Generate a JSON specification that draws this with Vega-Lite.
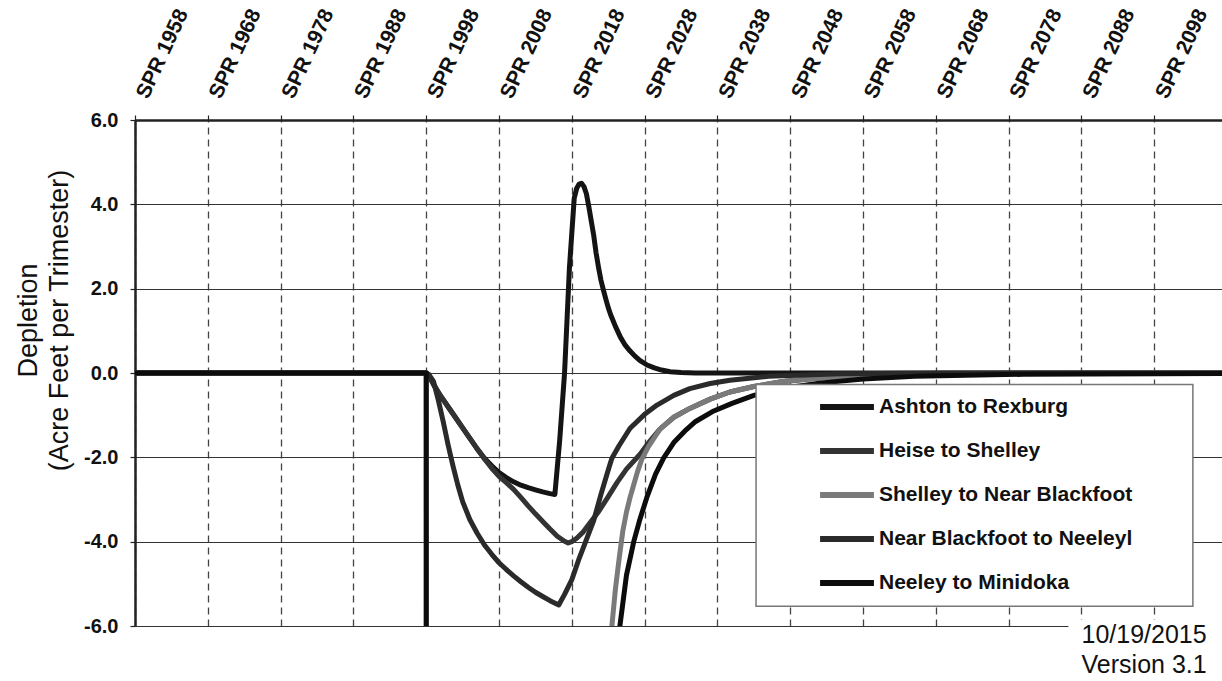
{
  "$schema": "https://vega.github.io/schema/vega-lite/v6.json",
  "width": 1087,
  "height": 506,
  "autosize": {"type": "none"},
  "padding": {"left": 135, "top": 120, "right": 0, "bottom": 55},
  "background": "white",
  "config": {
    "font": "Liberation Sans",
    "view": {"stroke": null},
    "axis": {"labelColor": "#111", "titleColor": "#111"}
  },
  "layer": [
    {
      "data": {"values": [
        {"series":"Ashton to Rexburg","year":1958,"value":0},
        {"series":"Ashton to Rexburg","year":1998,"value":0},
        {"series":"Ashton to Rexburg","year":1998.33,"value":-0.05},
        {"series":"Ashton to Rexburg","year":1999,"value":-0.27},
        {"series":"Ashton to Rexburg","year":2000,"value":-0.55},
        {"series":"Ashton to Rexburg","year":2001,"value":-0.8},
        {"series":"Ashton to Rexburg","year":2002,"value":-1.05},
        {"series":"Ashton to Rexburg","year":2003,"value":-1.3},
        {"series":"Ashton to Rexburg","year":2004,"value":-1.55},
        {"series":"Ashton to Rexburg","year":2005,"value":-1.8},
        {"series":"Ashton to Rexburg","year":2006,"value":-2.02},
        {"series":"Ashton to Rexburg","year":2007,"value":-2.2},
        {"series":"Ashton to Rexburg","year":2008,"value":-2.36},
        {"series":"Ashton to Rexburg","year":2009,"value":-2.48},
        {"series":"Ashton to Rexburg","year":2010,"value":-2.58},
        {"series":"Ashton to Rexburg","year":2011,"value":-2.66},
        {"series":"Ashton to Rexburg","year":2012,"value":-2.72},
        {"series":"Ashton to Rexburg","year":2013,"value":-2.77},
        {"series":"Ashton to Rexburg","year":2014,"value":-2.82},
        {"series":"Ashton to Rexburg","year":2015,"value":-2.86},
        {"series":"Ashton to Rexburg","year":2015.67,"value":-2.88},
        {"series":"Ashton to Rexburg","year":2016.33,"value":-1.6},
        {"series":"Ashton to Rexburg","year":2017,"value":0.0},
        {"series":"Ashton to Rexburg","year":2017.67,"value":2.5},
        {"series":"Ashton to Rexburg","year":2018.33,"value":4.15},
        {"series":"Ashton to Rexburg","year":2018.67,"value":4.38},
        {"series":"Ashton to Rexburg","year":2019,"value":4.48},
        {"series":"Ashton to Rexburg","year":2019.33,"value":4.5},
        {"series":"Ashton to Rexburg","year":2019.67,"value":4.42},
        {"series":"Ashton to Rexburg","year":2020,"value":4.25},
        {"series":"Ashton to Rexburg","year":2020.33,"value":3.95},
        {"series":"Ashton to Rexburg","year":2020.67,"value":3.6},
        {"series":"Ashton to Rexburg","year":2021,"value":3.27},
        {"series":"Ashton to Rexburg","year":2021.33,"value":2.85},
        {"series":"Ashton to Rexburg","year":2021.67,"value":2.5},
        {"series":"Ashton to Rexburg","year":2022,"value":2.2},
        {"series":"Ashton to Rexburg","year":2022.33,"value":1.97},
        {"series":"Ashton to Rexburg","year":2022.67,"value":1.75},
        {"series":"Ashton to Rexburg","year":2023,"value":1.55},
        {"series":"Ashton to Rexburg","year":2023.33,"value":1.38},
        {"series":"Ashton to Rexburg","year":2023.67,"value":1.24},
        {"series":"Ashton to Rexburg","year":2024,"value":1.1},
        {"series":"Ashton to Rexburg","year":2024.67,"value":0.85},
        {"series":"Ashton to Rexburg","year":2025.33,"value":0.66},
        {"series":"Ashton to Rexburg","year":2026,"value":0.52},
        {"series":"Ashton to Rexburg","year":2026.67,"value":0.4},
        {"series":"Ashton to Rexburg","year":2027.33,"value":0.3},
        {"series":"Ashton to Rexburg","year":2028.33,"value":0.19},
        {"series":"Ashton to Rexburg","year":2029.33,"value":0.12},
        {"series":"Ashton to Rexburg","year":2030.33,"value":0.07},
        {"series":"Ashton to Rexburg","year":2031.5,"value":0.03},
        {"series":"Ashton to Rexburg","year":2033,"value":0.01},
        {"series":"Ashton to Rexburg","year":2035,"value":0},
        {"series":"Ashton to Rexburg","year":2107.3,"value":0},

        {"series":"Heise to Shelley","year":1958,"value":0},
        {"series":"Heise to Shelley","year":1998,"value":0},
        {"series":"Heise to Shelley","year":1998.33,"value":-0.05},
        {"series":"Heise to Shelley","year":1999,"value":-0.27},
        {"series":"Heise to Shelley","year":2000,"value":-0.55},
        {"series":"Heise to Shelley","year":2001,"value":-0.8},
        {"series":"Heise to Shelley","year":2002,"value":-1.05},
        {"series":"Heise to Shelley","year":2003,"value":-1.3},
        {"series":"Heise to Shelley","year":2004,"value":-1.55},
        {"series":"Heise to Shelley","year":2005,"value":-1.8},
        {"series":"Heise to Shelley","year":2006,"value":-2.04},
        {"series":"Heise to Shelley","year":2007,"value":-2.26},
        {"series":"Heise to Shelley","year":2008,"value":-2.45},
        {"series":"Heise to Shelley","year":2009,"value":-2.6},
        {"series":"Heise to Shelley","year":2010,"value":-2.76},
        {"series":"Heise to Shelley","year":2011,"value":-2.95},
        {"series":"Heise to Shelley","year":2012,"value":-3.15},
        {"series":"Heise to Shelley","year":2013,"value":-3.34},
        {"series":"Heise to Shelley","year":2014,"value":-3.52},
        {"series":"Heise to Shelley","year":2015,"value":-3.7},
        {"series":"Heise to Shelley","year":2016,"value":-3.87},
        {"series":"Heise to Shelley","year":2017,"value":-3.99},
        {"series":"Heise to Shelley","year":2017.5,"value":-4.03},
        {"series":"Heise to Shelley","year":2018,"value":-4.0},
        {"series":"Heise to Shelley","year":2018.67,"value":-3.92},
        {"series":"Heise to Shelley","year":2019.5,"value":-3.78},
        {"series":"Heise to Shelley","year":2020.5,"value":-3.55},
        {"series":"Heise to Shelley","year":2021.67,"value":-3.29},
        {"series":"Heise to Shelley","year":2023,"value":-2.93},
        {"series":"Heise to Shelley","year":2024.2,"value":-2.6},
        {"series":"Heise to Shelley","year":2025.5,"value":-2.28},
        {"series":"Heise to Shelley","year":2027.4,"value":-1.92},
        {"series":"Heise to Shelley","year":2028.7,"value":-1.62},
        {"series":"Heise to Shelley","year":2030.1,"value":-1.33},
        {"series":"Heise to Shelley","year":2032,"value":-1.05},
        {"series":"Heise to Shelley","year":2034.2,"value":-0.84},
        {"series":"Heise to Shelley","year":2037,"value":-0.62},
        {"series":"Heise to Shelley","year":2039.7,"value":-0.45},
        {"series":"Heise to Shelley","year":2043,"value":-0.32},
        {"series":"Heise to Shelley","year":2047,"value":-0.2},
        {"series":"Heise to Shelley","year":2052,"value":-0.12},
        {"series":"Heise to Shelley","year":2060,"value":-0.05},
        {"series":"Heise to Shelley","year":2075,"value":-0.01},
        {"series":"Heise to Shelley","year":2107.3,"value":0},

        {"series":"Shelley to Near Blackfoot","year":1958,"value":0},
        {"series":"Shelley to Near Blackfoot","year":1998,"value":0},
        {"series":"Shelley to Near Blackfoot","year":1998.1,"value":-100},
        {"series":"Shelley to Near Blackfoot","year":2022.5,"value":-9},
        {"series":"Shelley to Near Blackfoot","year":2023,"value":-7.3},
        {"series":"Shelley to Near Blackfoot","year":2023.5,"value":-6.0},
        {"series":"Shelley to Near Blackfoot","year":2024,"value":-5.1},
        {"series":"Shelley to Near Blackfoot","year":2024.5,"value":-4.4},
        {"series":"Shelley to Near Blackfoot","year":2025,"value":-3.75},
        {"series":"Shelley to Near Blackfoot","year":2025.5,"value":-3.3},
        {"series":"Shelley to Near Blackfoot","year":2026,"value":-2.95},
        {"series":"Shelley to Near Blackfoot","year":2026.5,"value":-2.65},
        {"series":"Shelley to Near Blackfoot","year":2027,"value":-2.35},
        {"series":"Shelley to Near Blackfoot","year":2027.6,"value":-2.05},
        {"series":"Shelley to Near Blackfoot","year":2028.5,"value":-1.75},
        {"series":"Shelley to Near Blackfoot","year":2030.1,"value":-1.33},
        {"series":"Shelley to Near Blackfoot","year":2032,"value":-1.05},
        {"series":"Shelley to Near Blackfoot","year":2034.2,"value":-0.84},
        {"series":"Shelley to Near Blackfoot","year":2037,"value":-0.62},
        {"series":"Shelley to Near Blackfoot","year":2039.7,"value":-0.45},
        {"series":"Shelley to Near Blackfoot","year":2043,"value":-0.32},
        {"series":"Shelley to Near Blackfoot","year":2047,"value":-0.2},
        {"series":"Shelley to Near Blackfoot","year":2052,"value":-0.12},
        {"series":"Shelley to Near Blackfoot","year":2060,"value":-0.05},
        {"series":"Shelley to Near Blackfoot","year":2075,"value":-0.01},
        {"series":"Shelley to Near Blackfoot","year":2107.3,"value":0},

        {"series":"Near Blackfoot to Neeleyl","year":1958,"value":0},
        {"series":"Near Blackfoot to Neeleyl","year":1998,"value":0},
        {"series":"Near Blackfoot to Neeleyl","year":1998.33,"value":-0.03},
        {"series":"Near Blackfoot to Neeleyl","year":1999,"value":-0.2},
        {"series":"Near Blackfoot to Neeleyl","year":1999.67,"value":-0.65},
        {"series":"Near Blackfoot to Neeleyl","year":2000.33,"value":-1.15},
        {"series":"Near Blackfoot to Neeleyl","year":2001,"value":-1.7},
        {"series":"Near Blackfoot to Neeleyl","year":2001.67,"value":-2.2},
        {"series":"Near Blackfoot to Neeleyl","year":2002.33,"value":-2.65},
        {"series":"Near Blackfoot to Neeleyl","year":2003,"value":-3.05},
        {"series":"Near Blackfoot to Neeleyl","year":2004,"value":-3.48},
        {"series":"Near Blackfoot to Neeleyl","year":2005,"value":-3.8},
        {"series":"Near Blackfoot to Neeleyl","year":2006,"value":-4.08},
        {"series":"Near Blackfoot to Neeleyl","year":2007,"value":-4.3},
        {"series":"Near Blackfoot to Neeleyl","year":2008,"value":-4.5},
        {"series":"Near Blackfoot to Neeleyl","year":2009,"value":-4.66},
        {"series":"Near Blackfoot to Neeleyl","year":2010,"value":-4.81},
        {"series":"Near Blackfoot to Neeleyl","year":2011,"value":-4.95},
        {"series":"Near Blackfoot to Neeleyl","year":2012,"value":-5.08},
        {"series":"Near Blackfoot to Neeleyl","year":2013,"value":-5.2},
        {"series":"Near Blackfoot to Neeleyl","year":2014,"value":-5.3},
        {"series":"Near Blackfoot to Neeleyl","year":2015,"value":-5.4},
        {"series":"Near Blackfoot to Neeleyl","year":2016.2,"value":-5.5},
        {"series":"Near Blackfoot to Neeleyl","year":2017,"value":-5.25},
        {"series":"Near Blackfoot to Neeleyl","year":2018,"value":-4.9},
        {"series":"Near Blackfoot to Neeleyl","year":2019,"value":-4.4},
        {"series":"Near Blackfoot to Neeleyl","year":2020,"value":-3.95},
        {"series":"Near Blackfoot to Neeleyl","year":2021,"value":-3.5},
        {"series":"Near Blackfoot to Neeleyl","year":2022,"value":-2.88},
        {"series":"Near Blackfoot to Neeleyl","year":2023,"value":-2.3},
        {"series":"Near Blackfoot to Neeleyl","year":2023.5,"value":-2.02},
        {"series":"Near Blackfoot to Neeleyl","year":2024.5,"value":-1.72},
        {"series":"Near Blackfoot to Neeleyl","year":2026,"value":-1.31},
        {"series":"Near Blackfoot to Neeleyl","year":2028,"value":-0.98},
        {"series":"Near Blackfoot to Neeleyl","year":2029.7,"value":-0.76},
        {"series":"Near Blackfoot to Neeleyl","year":2032,"value":-0.53},
        {"series":"Near Blackfoot to Neeleyl","year":2034.2,"value":-0.37},
        {"series":"Near Blackfoot to Neeleyl","year":2037,"value":-0.25},
        {"series":"Near Blackfoot to Neeleyl","year":2039.7,"value":-0.17},
        {"series":"Near Blackfoot to Neeleyl","year":2045,"value":-0.08},
        {"series":"Near Blackfoot to Neeleyl","year":2055,"value":-0.02},
        {"series":"Near Blackfoot to Neeleyl","year":2070,"value":0},
        {"series":"Near Blackfoot to Neeleyl","year":2107.3,"value":0},

        {"series":"Neeley to Minidoka","year":1958,"value":0},
        {"series":"Neeley to Minidoka","year":1998,"value":0},
        {"series":"Neeley to Minidoka","year":1998.1,"value":-100},
        {"series":"Neeley to Minidoka","year":2023.5,"value":-10},
        {"series":"Neeley to Minidoka","year":2024.1,"value":-7.2},
        {"series":"Neeley to Minidoka","year":2024.6,"value":-6.0},
        {"series":"Neeley to Minidoka","year":2025.5,"value":-4.8},
        {"series":"Neeley to Minidoka","year":2026.5,"value":-4.0},
        {"series":"Neeley to Minidoka","year":2027.3,"value":-3.5},
        {"series":"Neeley to Minidoka","year":2028.3,"value":-2.95},
        {"series":"Neeley to Minidoka","year":2029.5,"value":-2.4},
        {"series":"Neeley to Minidoka","year":2030.6,"value":-2.02},
        {"series":"Neeley to Minidoka","year":2032,"value":-1.65},
        {"series":"Neeley to Minidoka","year":2033.5,"value":-1.38},
        {"series":"Neeley to Minidoka","year":2035,"value":-1.15},
        {"series":"Neeley to Minidoka","year":2037.5,"value":-0.9},
        {"series":"Neeley to Minidoka","year":2040,"value":-0.72},
        {"series":"Neeley to Minidoka","year":2043,"value":-0.53},
        {"series":"Neeley to Minidoka","year":2047,"value":-0.36},
        {"series":"Neeley to Minidoka","year":2052,"value":-0.24},
        {"series":"Neeley to Minidoka","year":2058,"value":-0.14},
        {"series":"Neeley to Minidoka","year":2065,"value":-0.08},
        {"series":"Neeley to Minidoka","year":2080,"value":-0.03},
        {"series":"Neeley to Minidoka","year":2107.3,"value":-0.01}
      ]},
      "mark": {"type": "line", "strokeWidth": 5, "clip": true, "strokeCap": "round", "strokeJoin": "round"},
      "encoding": {
        "x": {
          "field": "year", "type": "quantitative",
          "scale": {"domain": [1958, 2107.3], "nice": false, "zero": false},
          "axis": {
            "orient": "top", "title": null,
            "values": [1958,1963,1968,1973,1978,1983,1988,1993,1998,2003,2008,2013,2018,2023,2028,2033,2038,2043,2048,2053,2058,2063,2068,2073,2078,2083,2088,2093,2098,2103],
            "labelExpr": "(datum.value - 1958) % 10 == 0 ? 'SPR ' + datum.value : ''",
            "labelAngle": -65, "labelAlign": "left", "labelBaseline": "middle",
            "labelFontSize": 21, "labelFontWeight": "bold",
            "labelPadding": 18, "labelOffset": 7,
            "labelOverlap": false, "labelFlush": false, "labelBound": false,
            "tickSize": 5, "tickColor": "#222", "tickWidth": 1.2,
            "domainColor": "#222", "domainWidth": 2.5,
            "grid": true, "gridDash": [7, 5], "gridColor": "#444", "gridWidth": 1.3
          }
        },
        "y": {
          "field": "value", "type": "quantitative",
          "scale": {"domain": [-6, 6], "nice": false, "zero": false},
          "axis": {
            "values": [-6, -4, -2, 0, 2, 4, 6],
            "labelExpr": "datum.value < 0 ? '-' + format(-datum.value, '.1f') : format(datum.value, '.1f')",
            "labelFontSize": 20, "labelFontWeight": "bold", "labelPadding": 12,
            "labelFlush": false, "labelOverlap": false,
            "tickSize": 5, "tickColor": "#222", "tickWidth": 1.2,
            "domainColor": "#222", "domainWidth": 2.5,
            "grid": true, "gridColor": "#333", "gridWidth": 1.2,
            "title": ["Depletion", "(Acre Feet per Trimester)"],
            "titleFontSize": 27, "titleFontWeight": "normal", "titleLineHeight": 31,
            "titlePadding": 10, "titleY": 200
          }
        },
        "color": {
          "field": "series", "type": "nominal",
          "scale": {
            "domain": ["Ashton to Rexburg", "Heise to Shelley", "Shelley to Near Blackfoot", "Near Blackfoot to Neeleyl", "Neeley to Minidoka"],
            "range": ["#141414", "#333333", "#7a7a7a", "#2a2a2a", "#0c0c0c"]
          },
          "legend": {
            "orient": "none", "legendX": 682, "legendY": 257, "title": null,
            "symbolType": "stroke", "symbolSize": 2900, "symbolStrokeWidth": 6,
            "labelFontSize": 21, "labelFontWeight": "bold", "labelColor": "#111",
            "labelOffset": 2, "rowPadding": 2, "labelLimit": 400, "padding": 0
          }
        }
      }
    },
    {
      "data": {"values": [{}]},
      "mark": {"type": "rect", "fill": "white", "stroke": "#777", "strokeWidth": 1.5},
      "encoding": {
        "x": {"datum": 2043.3, "type": "quantitative"},
        "x2": {"datum": 2103.3},
        "y": {"datum": -0.27, "type": "quantitative"},
        "y2": {"datum": -5.53}
      }
    },
    {
      "data": {"values": [{}]},
      "mark": {"type": "rect", "fill": "white"},
      "encoding": {
        "x": {"datum": 2086.2, "type": "quantitative"},
        "x2": {"datum": 2107.3},
        "y": {"datum": -5.85, "type": "quantitative"},
        "y2": {"datum": -7.4}
      }
    },
    {
      "data": {"values": [{}]},
      "mark": {"type": "text", "text": ["10/19/2015", "Version 3.1"], "fontSize": 25, "lineHeight": 30, "align": "center", "baseline": "alphabetic", "color": "#111"},
      "encoding": {
        "x": {"datum": 2096.6, "type": "quantitative"},
        "y": {"datum": -6.41, "type": "quantitative"}
      }
    }
  ]
}
